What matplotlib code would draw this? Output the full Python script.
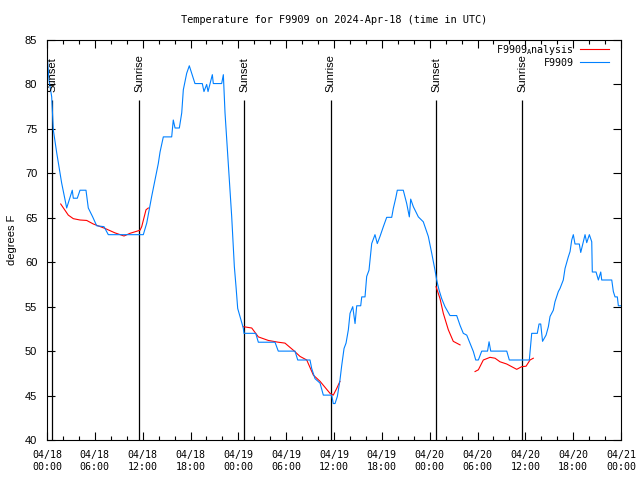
import matplotlib
matplotlib.use("Agg")
import matplotlib.pyplot as plt
import matplotlib.dates as mdates
import pandas as pd

START = pd.Timestamp("2024-04-18 00:00")

# observed F9909 temperature (hours since 04/18 00:00 UTC, degrees F)
obs_hours = [0.04, 0.25, 0.59, 0.79, 1.22, 1.84, 2.47, 3.17, 3.30, 3.80, 4.14, 4.89,
             5.18, 5.73, 6.23, 7.15, 7.69, 12.08, 12.51, 13.13, 13.55, 13.96, 14.18,
             14.59, 15.64, 15.84, 16.06, 16.60, 16.90, 17.10, 17.52, 17.85, 18.56,
             19.48, 19.69, 20.03, 20.20, 20.74, 20.86, 21.91, 22.12, 22.33, 22.74,
             23.17, 23.37, 23.50, 23.71, 23.92, 24.21, 24.62, 24.71, 26.18, 26.51,
             28.60, 29.01, 31.11, 31.45, 32.99, 33.20, 33.62, 34.25, 34.66, 35.71,
             35.91, 36.13, 36.42, 36.75, 36.97, 37.26, 37.51, 37.80, 38.01, 38.35,
             38.64, 38.85, 39.35, 39.48, 39.89, 40.10, 40.39, 40.73, 41.14, 41.43,
             41.77, 42.19, 42.61, 43.24, 43.44, 43.74, 43.94, 44.69, 45.12, 45.45,
             45.62, 45.95, 46.58, 47.20, 47.83, 48.26, 48.67, 48.88, 49.17, 49.51,
             49.92, 50.55, 51.39, 51.81, 52.22, 52.65, 53.06, 53.48, 53.78, 54.11,
             54.53, 55.26, 55.45, 55.66, 57.67, 57.99, 60.50, 60.80, 61.50, 61.72,
             61.93, 62.16, 62.60, 62.89, 63.10, 63.51, 63.72, 64.14, 64.35, 64.76,
             64.98, 65.39, 65.61, 65.82, 66.02, 66.23, 66.77, 66.95, 67.20, 67.49,
             67.70, 68.03, 68.33, 68.40, 68.87, 69.16, 69.46, 69.58, 70.84, 71.04,
             71.25, 71.54, 71.67, 72.0]
obs_temp = [83.1, 80.5, 78.6, 74.9, 72.3, 68.9, 66.1, 68.1, 67.2, 67.2, 68.1, 68.1,
            66.1, 65.1, 64.1, 64.0, 63.1, 63.1, 64.4, 67.4, 69.3, 71.1, 72.4,
            74.1, 74.1, 76.0, 75.1, 75.1, 76.8, 79.4, 81.25, 82.1, 80.1,
            80.1, 79.2, 80.0, 79.2, 81.1, 80.1, 80.1, 81.1, 76.8, 71.1,
            65.1, 61.75, 59.5, 57.25, 54.8, 53.9, 52.6, 52.0, 52.0, 51.0,
            51.0, 50.0, 50.0, 49.0, 49.0, 48.05, 46.9, 46.4, 45.05, 45.05,
            44.1, 44.1, 44.9, 46.75, 48.4, 50.3, 50.9, 52.4, 54.25, 55.0,
            53.1, 55.1, 55.1, 56.1, 56.1, 58.4, 59.1, 62.1, 63.1, 62.1,
            62.9, 64.0, 65.05, 65.05, 66.05, 67.2, 68.1, 68.1, 66.6, 65.1,
            67.1, 66.25, 65.1, 64.55, 62.9, 61.0, 59.1, 58.0, 56.9, 55.9,
            55.0, 54.0, 54.0, 52.9, 52.0, 51.8, 50.9, 49.95, 49.0, 49.0,
            50.0, 50.0, 51.05, 50.0, 50.0, 49.0, 49.0, 52.0, 52.0, 53.05,
            53.05, 51.1, 51.8, 52.75, 53.9, 54.6, 55.55, 56.7, 57.05, 58.0,
            59.3, 60.6, 61.2, 62.5, 63.1, 62.05, 62.05, 61.1, 62.05, 63.1,
            62.2, 63.1, 62.3, 58.9, 58.9, 58.0, 58.9, 58.0, 58.0, 56.7,
            56.1, 56.1, 55.1, 55.1]

# analysis segments (broken into separate runs)
ana_hours = [
    [1.72, 2.67, 3.30, 4.14, 4.98, 5.81, 7.28, 8.53, 9.66, 10.41, 11.67, 11.88, 12.42, 12.71],
    [24.62, 25.68, 26.51, 27.76, 29.01, 29.85, 30.90, 31.74, 32.58, 33.41, 34.25, 35.50,
     35.91, 36.34, 36.75],
    [48.80, 49.30, 49.71, 50.34, 50.96, 51.81],
    [53.69, 54.11, 54.73, 55.57, 56.20, 56.82, 57.66, 58.29, 58.92, 59.55, 60.09, 60.59, 61.0],
]
ana_temp = [
    [66.55, 65.3, 64.9, 64.75, 64.7, 64.3, 63.8, 63.3, 62.95, 63.25, 63.6, 64.0, 65.9, 66.1],
    [52.75, 52.6, 51.6, 51.2, 51.0, 50.9, 50.1, 49.4, 49.0, 47.3, 46.6, 45.25, 45.05, 45.8, 46.6],
    [57.25, 55.9, 54.25, 52.4, 51.1, 50.7],
    [47.7, 47.9, 49.0, 49.3, 49.2, 48.8, 48.55, 48.25, 47.95, 48.25, 48.3, 49.0, 49.2],
]

sun_hours = [0.66, 11.6, 24.75, 35.62, 48.85, 59.62]
sun_labels = ["Sunset", "Sunrise", "Sunset", "Sunrise", "Sunset", "Sunrise"]


def to_time(hours):
    return START + pd.to_timedelta(hours, unit="h")


MONO = "DejaVu Sans Mono"
SANS = "Liberation Sans"
plt.rcParams["mathtext.fontset"] = "dejavusans"

fig = plt.figure(figsize=(6.4, 4.8), dpi=100)
ax = fig.add_axes([47 / 640, 40 / 480, 574 / 640, 400 / 480])

# sunrise / sunset markers
for h, lab in zip(sun_hours, sun_labels):
    t = to_time(h)
    ax.vlines(t, 40, 78.25, color="black", lw=0.9, zorder=1)
    ax.text(t, 79.2, lab, rotation=90, ha="center", va="bottom",
            fontsize=8, family=SANS, zorder=3)

for hs, ts in zip(ana_hours, ana_temp):
    ax.plot(to_time(hs), ts, color="#ff0000", lw=0.8, zorder=2,
            label="F9909$_{\\mathtt{A}}$nalysis" if hs is ana_hours[0] else None)
ax.plot(to_time(obs_hours), obs_temp, color="#0080ff", lw=0.8, zorder=2, label="F9909")

ax.set_xlim(to_time(0), to_time(72))
ax.set_ylim(40, 85)
ax.set_yticks(range(40, 86, 5))

ax.xaxis.set_major_locator(mdates.HourLocator(byhour=range(0, 24, 6)))
ax.xaxis.set_minor_locator(mdates.HourLocator(byhour=range(0, 24, 2)))
ax.xaxis.set_major_formatter(mdates.DateFormatter("%m/%d\n%H:%M"))

ax.tick_params(which="both", direction="in", top=True, right=True, color="black")
ax.tick_params(which="major", length=6, width=0.8)
ax.tick_params(which="minor", length=3, width=0.8)
ax.tick_params(axis="x", pad=7)
ax.tick_params(axis="y", pad=7)
for lab in ax.get_xticklabels():
    lab.set_family(MONO)
    lab.set_fontsize(7.2)
    lab.set_linespacing(1.3)
for lab in ax.get_yticklabels():
    lab.set_family(SANS)
    lab.set_fontsize(8)
for sp in ax.spines.values():
    sp.set_linewidth(0.8)

ax.set_ylabel("degrees F", family=SANS, fontsize=8, labelpad=6)
ax.set_title("Temperature for F9909 on 2024-Apr-18 (time in UTC)",
             family=MONO, fontsize=7.4, pad=12)

leg = ax.legend(loc="upper right", bbox_to_anchor=(0.988, 1.006), frameon=False,
                markerfirst=False, prop={"family": MONO, "size": 7.2},
                handlelength=2.9, handletextpad=0.6, labelspacing=0.1,
                borderaxespad=0.1)
for col in leg._legend_handle_box.get_children():
    col.align = "right"

fig.savefig("out.png", dpi=100)
